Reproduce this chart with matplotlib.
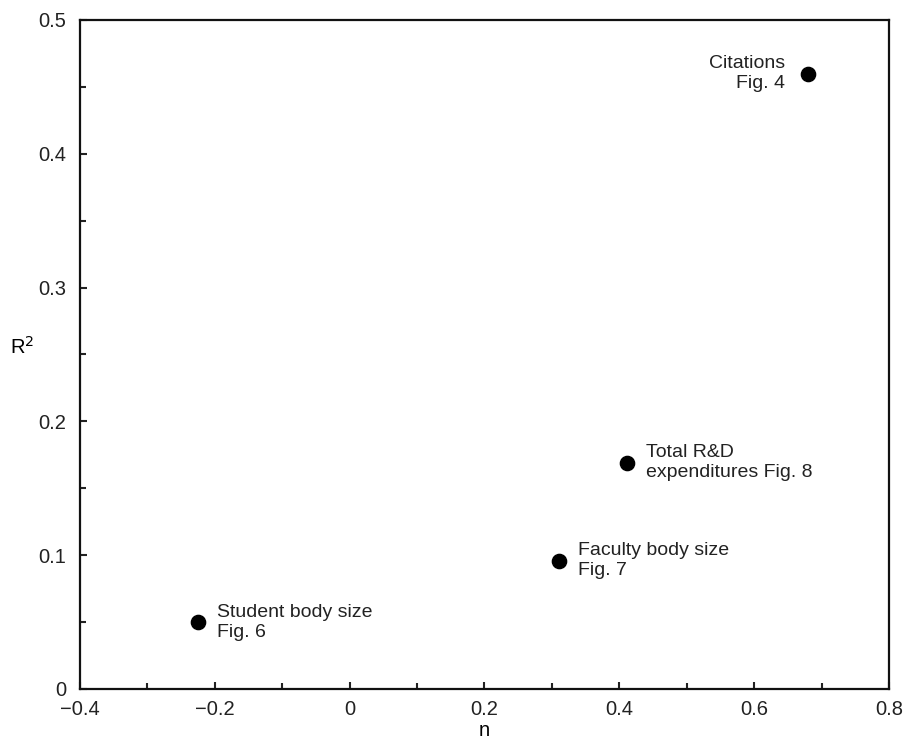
import matplotlib.pyplot as plt
from matplotlib.ticker import MultipleLocator

plt.rcParams["font.family"] = ["Liberation Sans", "DejaVu Sans"]

labels = [
    "Citations\nFig. 4",
    "Total R&D\nexpenditures Fig. 8",
    "Faculty body size\nFig. 7",
    "Student body size\nFig. 6",
]
n_values = [0.680, 0.412, 0.311, -0.225]
r2_values = [0.460, 0.169, 0.096, 0.050]
label_sides = ["left", "right", "right", "right"]


def main():
    fig = plt.figure(figsize=(9.04, 7.43), dpi=100)
    ax = fig.add_axes([0.0885, 0.0727, 0.8949, 0.9004])

    ax.scatter(n_values, r2_values, s=105, color="black", zorder=3)

    for x, y, text, side in zip(n_values, r2_values, labels, label_sides):
        dx = 13.5 if side == "right" else -16.5
        ax.annotate(text, (x, y), xytext=(dx, 0), textcoords="offset points",
                    ha="left" if side == "right" else "right", va="center",
                    fontsize=14, color="#222222", linespacing=1.22)

    ax.set_xlim(-0.4, 0.8)
    ax.set_ylim(0, 0.5)
    ax.xaxis.set_major_locator(MultipleLocator(0.2))
    ax.xaxis.set_minor_locator(MultipleLocator(0.1))
    ax.yaxis.set_major_locator(MultipleLocator(0.1))
    ax.yaxis.set_minor_locator(MultipleLocator(0.05))
    ax.xaxis.set_major_formatter(lambda v, p: "0" if abs(v) < 1e-9 else f"{v:.1f}".replace("-", "\u2212"))
    ax.yaxis.set_major_formatter(lambda v, p: "0" if abs(v) < 1e-9 else f"{v:.1f}")

    ax.tick_params(which="both", direction="in", width=1.5, labelsize=14.5, colors="#222222")
    ax.tick_params(which="major", length=5)
    ax.tick_params(which="minor", length=4)
    ax.tick_params(axis="x", which="major", pad=8)
    ax.tick_params(axis="y", which="major", pad=10)
    for spine in ax.spines.values():
        spine.set_linewidth(1.6)
        spine.set_color("#111111")

    ax.set_xlabel("n", fontsize=14.5)
    ax.xaxis.set_label_coords(0.5, -0.048)
    ax.set_ylabel("R$^2$", fontsize=14.5, rotation=0)
    ax.yaxis.set_label_coords(-0.072, 0.495)

    fig.savefig("out.png", dpi=100)


if __name__ == "__main__":
    main()
